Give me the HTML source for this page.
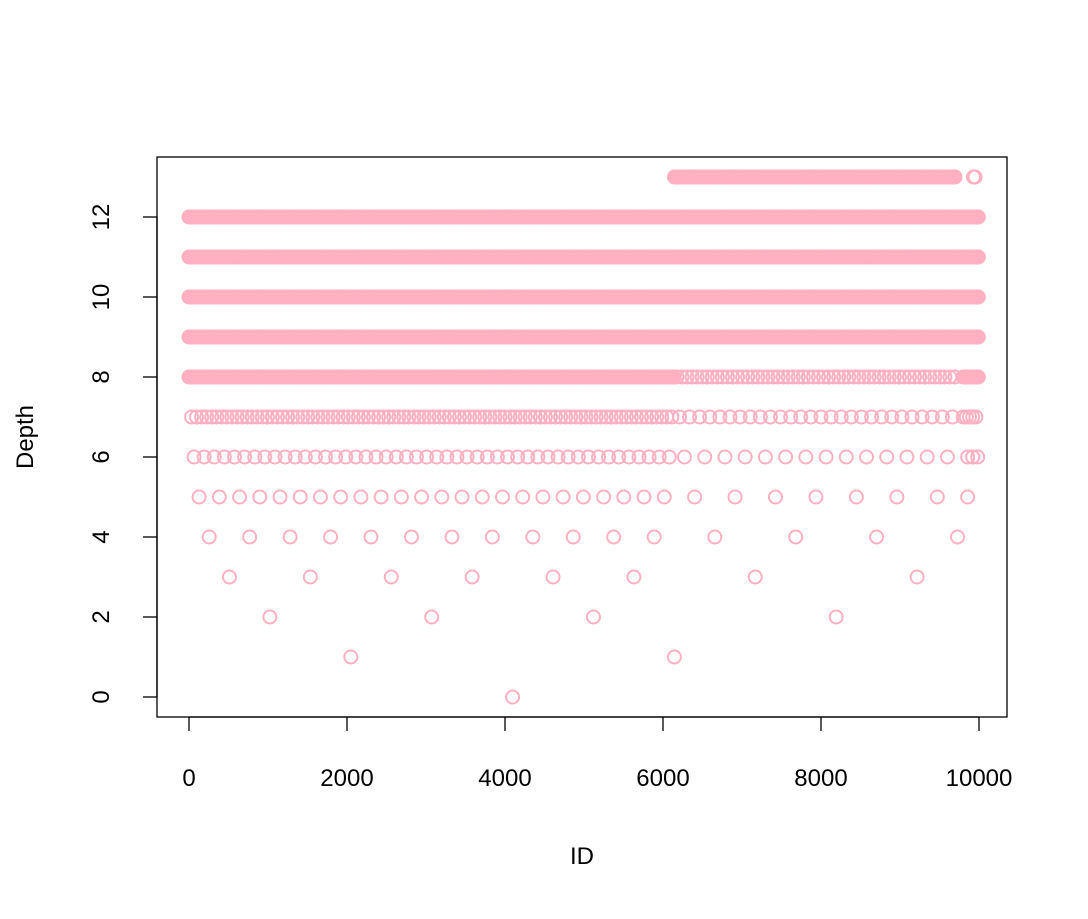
<!DOCTYPE html>
<html><head><meta charset="utf-8"><style>
body{margin:0;background:#fff}
text{font-family:"Liberation Sans",Arial,sans-serif;font-size:24px;fill:#000}
</style></head><body>
<svg id="chart" width="1088" height="914" xmlns="http://www.w3.org/2000/svg">
<rect x="157" y="157" width="850" height="560" fill="none" stroke="#000" stroke-width="1.3"/>
<g id="points"></g>
<g id="axes"></g>
<text x="582" y="864" text-anchor="middle">ID</text>
<text transform="translate(33,437) rotate(-90)" text-anchor="middle">Depth</text>
</svg>
<script>
const xTicks=[0,2000,4000,6000,8000,10000];
const yTicks=[0,2,4,6,8,10,12];
const sparseDepths=[0,1,2,3,4,5];
const sparseIds=[
 [4096],
 [2048,6144],
 [1024,3072,5120,8192],
 [512,1536,2560,3584,4608,5632,7168,9216],
 [256,768,1280,1792,2304,2816,3328,3840,4352,4864,5376,5888,6656,7680,8704,9728],
 [128,384,640,896,1152,1408,1664,1920,2176,2432,2688,2944,3200,3456,3712,3968,4224,4480,4736,4992,5248,5504,5760,6016,6400,6912,7424,7936,8448,8960,9472,9856]
];
const segDepth=[6,6,6,7,7,7,8,8,8,9,10,11,12,13,13];
const segStart=[64,6272,9856,32,6208,9800,0,6176,9800,0,0,0,0,6145,9930];
const segEnd=[6080,9600,9984,6112,9750,9980,6140,9750,9999,9999,9999,9999,9999,9700,9950];
const segStep=[128,256,64,64,128,40,8,64,16,8,8,8,8,8,10];
const NS="http://www.w3.org/2000/svg";
const X=v=>189+v*(979-189)/10000;
const Y=v=>697-v*40;
const pts=document.getElementById('points');
function dot(id,d){
 const c=document.createElementNS(NS,'circle');
 
 
 c.setAttribute('cx',X(id));c.setAttribute('cy',Y(d));c.setAttribute('r',6.5);
 c.setAttribute('fill','none');c.setAttribute('stroke','#FFB0C1');c.setAttribute('stroke-width',2);
 pts.appendChild(c);
}
sparseDepths.forEach((d,i)=>sparseIds[i].forEach(id=>dot(id,d)));
segDepth.forEach((d,i)=>{for(let id=segStart[i];id<=segEnd[i];id+=segStep[i])dot(id,d);});
const ax=document.getElementById('axes');
function el(tag,attrs,txt){const e=document.createElementNS(NS,tag);for(const k in attrs)e.setAttribute(k,attrs[k]);if(txt!==undefined)e.textContent=txt;ax.appendChild(e);return e;}
const xl=el('line',{x1:X(0),x2:X(10000),y1:717,y2:717,stroke:'#000','stroke-width':1.3});

xTicks.forEach(t=>{
 const l=el('line',{x1:X(t),x2:X(t),y1:717,y2:731,stroke:'#000','stroke-width':1.3});
 
 const s=el('text',{x:X(t),y:786,'text-anchor':'middle'},String(t));
 
});
const yl=el('line',{x1:157,x2:157,y1:Y(0),y2:Y(12),stroke:'#000','stroke-width':1.3});

yTicks.forEach(t=>{
 const l=el('line',{x1:143,x2:157,y1:Y(t),y2:Y(t),stroke:'#000','stroke-width':1.3});
 
 const s=el('text',{transform:`translate(109,${Y(t)}) rotate(-90)`,'text-anchor':'middle'},String(t));
 
});
</script>
</body></html>
